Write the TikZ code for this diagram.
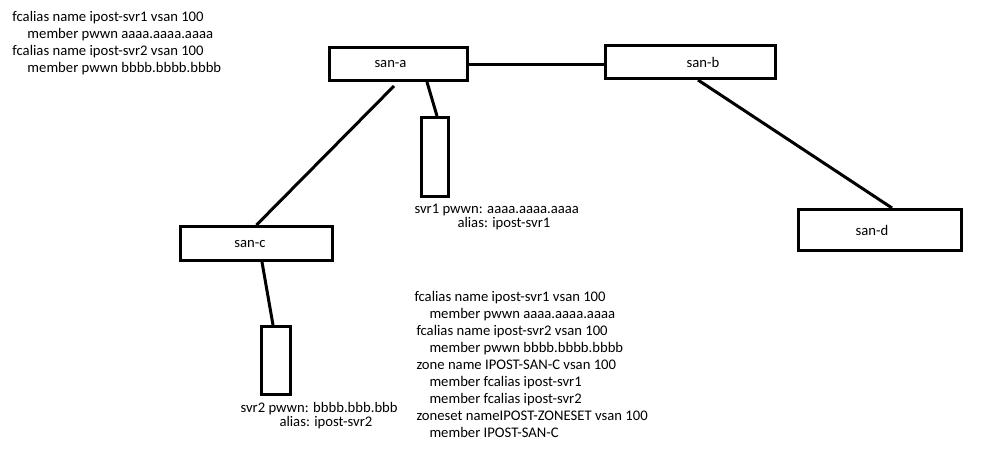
\documentclass[tikz,border=0pt]{standalone}
\usepackage{fontspec}
\setmainfont{Carlito}
\usetikzlibrary{positioning}
\begin{document}
\begin{tikzpicture}[x=1pt, y=-1pt, line width=3pt,
    switchbox/.style={draw, rectangle, inner sep=0pt, font=\fontsize{14.67}{17}\selectfont},
    serverbox/.style={draw, rectangle, inner sep=0pt},
    note/.style={align=left, inner sep=0pt, anchor=north west, font=\fontsize{14.67}{17.1}\selectfont},
    tag/.style={align=left, inner sep=0pt, anchor=north west, font=\fontsize{14.67}{14}\selectfont}]
    \useasboundingbox (0,0) rectangle (999,455);

    % switches
    \node[switchbox, minimum width=138pt, minimum height=33pt] (sana) at (398.5,64) {san-a\hspace*{16pt}};
    \node[switchbox, minimum width=170pt, minimum height=33pt] (sanb) at (690.5,62) {\hspace*{25pt}san-b};
    \node[switchbox, minimum width=152pt, minimum height=34pt] (sanc) at (256.5,243.5) {san-c\hspace*{13pt}};
    \node[switchbox, minimum width=163pt, minimum height=41pt] (sand) at (880,230) {san-d\hspace*{16pt}};

    % servers
    \node[serverbox, minimum width=27pt, minimum height=79pt] (svr1) at (435,157) {};
    \node[serverbox, minimum width=29pt, minimum height=68pt] (svr2) at (276,360.5) {};

    % links
    \draw (sana.east) -- (sana.east -| sanb.west);
    \draw ([xshift=-4.5pt,yshift=-4pt]sana.south) -- (sanc.north);
    \draw ([xshift=28.5pt]sana.south) -- ([xshift=2pt]svr1.north);
    \draw ([xshift=5.5pt]sanc.south) -- ([xshift=-3pt]svr2.north);
    \draw ([xshift=7.5pt]sanb.south) -- ([xshift=12pt]sand.north);

    % server labels
    \node[tag] (svr1tag) at (413,203) {svr1 pwwn: aaaa.aaaa.aaaa\\\hspace*{43pt}alias: ipost-svr1};
    \node[tag] (svr2tag) at (239,401) {svr2 pwwn: bbbb.bbb.bbb\\\hspace*{39pt}alias: ipost-svr2};

    % config text
    \node[note] (cfgtop) at (11,10) {fcalias name ipost-svr1 vsan 100\\
        \hspace*{15pt}member pwwn aaaa.aaaa.aaaa\\
        fcalias name ipost-svr2 vsan 100\\
        \hspace*{15pt}member pwwn bbbb.bbbb.bbbb};
    \node[note] (cfgsanc) at (413,289.5) {fcalias name ipost-svr1 vsan 100\\
        \hspace*{15pt}member pwwn aaaa.aaaa.aaaa\\
        \hspace*{2pt}fcalias name ipost-svr2 vsan 100\\
        \hspace*{15pt}member pwwn bbbb.bbbb.bbbb\\
        \hspace*{2pt}zone name IPOST-SAN-C vsan 100\\
        \hspace*{15pt}member fcalias ipost-svr1\\
        \hspace*{15pt}member fcalias ipost-svr2\\
        \hspace*{2pt}zoneset nameIPOST-ZONESET vsan 100\\
        \hspace*{15pt}member IPOST-SAN-C};
\end{tikzpicture}
\end{document}
